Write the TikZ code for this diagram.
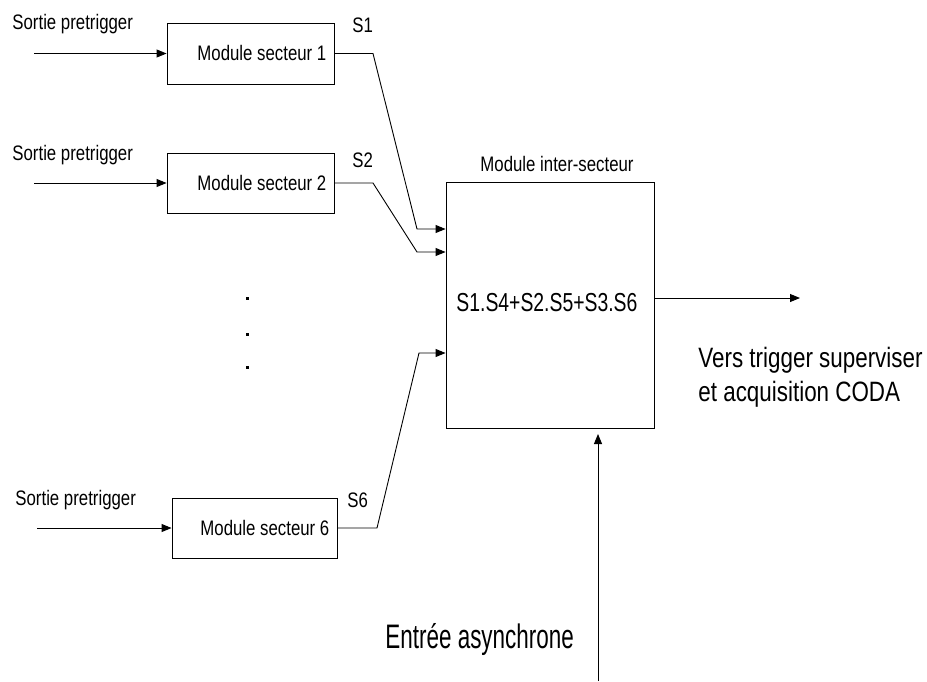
\documentclass[tikz,border=0pt]{standalone}
\usepackage{fontspec}
\setmainfont{Liberation Sans}[FakeStretch=0.8]
\newfontfamily\formfont{Liberation Sans}[FakeStretch=0.745]
\newfontfamily\asyfont{Liberation Sans}[FakeStretch=0.66]
\usetikzlibrary{arrows.meta}
\begin{document}
\begin{tikzpicture}[x=1pt,y=-1pt,
  line width=0.9pt,
  box/.style={draw, inner sep=0pt},
  lbl/.style={anchor=base west, inner sep=0pt, font=\fontsize{21}{25}\selectfont},
  big/.style={anchor=base west, inner sep=0pt, font=\fontsize{28}{33}\selectfont},
  arr/.style={-{Triangle[length=10pt,width=8pt]}},
  dotmark/.style={fill=black, inner sep=0pt, minimum size=3pt}]
\useasboundingbox (0,0) rectangle (927,681);

% module boxes
\node[box, minimum width=167pt, minimum height=61pt] (m1) at (250.5,53.5) {};
\node[box, minimum width=167pt, minimum height=60pt] (m2) at (250.5,183) {};
\node[box, minimum width=165pt, minimum height=60pt] (m6) at (254.5,528) {};
\node[box, minimum width=208pt, minimum height=246pt] (inter) at (550,305) {};

% texts
\node[lbl] (t1) at (12,29) {Sortie pretrigger};
\node[lbl] (t2) at (12,160) {Sortie pretrigger};
\node[lbl] (t6) at (15,505) {Sortie pretrigger};
\node[lbl] (n1) at (197,60) {Module secteur 1};
\node[lbl] (n2) at (197,190) {Module secteur 2};
\node[lbl] (n6) at (200,535) {Module secteur 6};
\node[lbl] (s1) at (352,32) {S1};
\node[lbl] (s2) at (352,167) {S2};
\node[lbl] (s6) at (347,507) {S6};
\node[lbl] (ti) at (480,171) {Module inter-secteur};
\node[anchor=base west, inner sep=0pt, font=\formfont\fontsize{26}{30}\selectfont] (form) at (456,311.5) {S1.S4+S2.S5+S3.S6};
\node[big] (v1) at (698,367) {Vers trigger superviser};
\node[big] (v2) at (698,401) {et acquisition CODA};
\node[anchor=base west, inner sep=0pt, font=\asyfont\fontsize{34}{40}\selectfont] (asy) at (385,648) {Entrée asynchrone};

% dots
\node[dotmark] (d1) at (247,298) {};
\node[dotmark] (d2) at (247,334) {};
\node[dotmark] (d3) at (247,367) {};

% input arrows
\coordinate (i1) at (34,53.5);
\coordinate (i2) at (34,183);
\coordinate (i6) at (37,528);
\draw[arr] (i1) -- (m1.west);
\draw[arr] (i2) -- (m2.west);
\draw[arr] (i6) -- (m6.west);

% outputs to inter-secteur
\coordinate (a1) at (373,53.5);
\coordinate (b1) at (417,229);
\coordinate (a2) at (373,183);
\coordinate (b2) at (417,252);
\coordinate (a6) at (377,528);
\coordinate (b6) at (419,353);
\draw[arr] (m1.east) -- (a1) -- (b1) -- (b1 -| inter.west);
\draw[arr] (m2.east) -- (a2) -- (b2) -- (b2 -| inter.west);
\draw[arr] (m6.east) -- (a6) -- (b6) -- (b6 -| inter.west);

% output
\coordinate (o) at (800,298);
\draw[arr] (o -| inter.east) -- (o);

% asynchronous input
\coordinate (ain) at (598,681);
\coordinate (atip) at (598,434);
\draw[arr] (ain) -- (atip);
\end{tikzpicture}
\end{document}
